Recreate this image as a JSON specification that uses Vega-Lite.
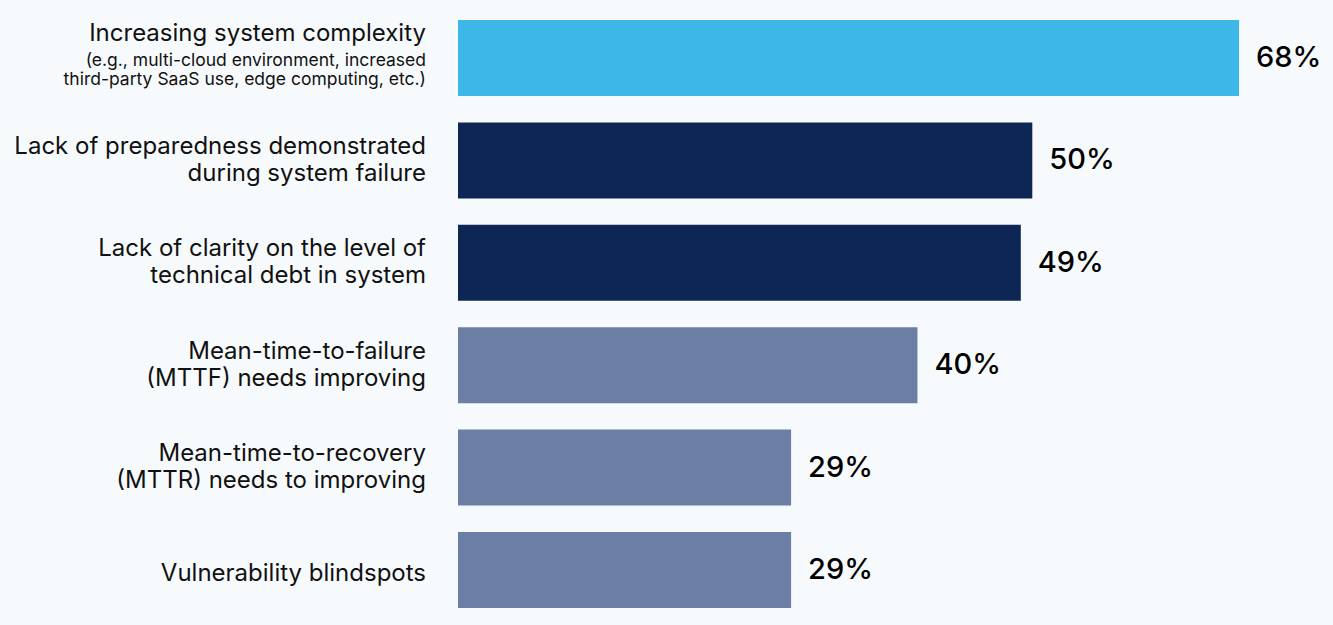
{
  "$schema": "https://vega.github.io/schema/vega-lite/v6.json",
  "width": 875,
  "height": 588,
  "autosize": {"type": "none"},
  "padding": {"left": 458, "top": 20, "right": 0, "bottom": 17},
  "background": "#f7fafc",
  "config": {"view": {"stroke": null}, "font": "Inter"},
  "data": {
    "values": [
      {"cat": "Increasing system complexity", "label": "Increasing system complexity", "sub": ["(e.g., multi-cloud environment, increased", "third-party SaaS use, edge computing, etc.)"], "value": 68, "pct": "68%", "tier": "top"},
      {"cat": "Lack of preparedness", "label": ["Lack of preparedness demonstrated", "during system failure"], "sub": "", "value": 50, "pct": "50%", "tier": "high"},
      {"cat": "Lack of clarity", "label": ["Lack of clarity on the level of", "technical debt in system"], "sub": "", "value": 49, "pct": "49%", "tier": "high"},
      {"cat": "MTTF", "label": ["Mean-time-to-failure", "(MTTF) needs improving"], "sub": "", "value": 40, "pct": "40%", "tier": "mid"},
      {"cat": "MTTR", "label": ["Mean-time-to-recovery", "(MTTR) needs to improving"], "sub": "", "value": 29, "pct": "29%", "tier": "mid"},
      {"cat": "Vulnerability", "label": "Vulnerability blindspots", "sub": "", "value": 29, "pct": "29%", "tier": "mid"}
    ]
  },
  "encoding": {
    "y": {"field": "cat", "type": "nominal", "sort": null, "axis": null,
          "scale": {"paddingInner": 0.258, "paddingOuter": 0}}
  },
  "layer": [
    {
      "mark": {"type": "bar"},
      "encoding": {
        "x": {"field": "value", "type": "quantitative", "axis": null, "scale": {"domain": [0, 76.18], "nice": false}},
        "color": {"field": "tier", "type": "nominal", "legend": null,
                  "scale": {"domain": ["top", "high", "mid"], "range": ["#3db6e8", "#0e2654", "#6b7ea3"]}}
      }
    },
    {
      "mark": {"type": "text", "align": "left", "baseline": "middle", "dx": 17, "fontSize": 29, "fontWeight": 500, "color": "#000000"},
      "encoding": {
        "x": {"field": "value", "type": "quantitative"},
        "text": {"field": "pct"}
      }
    },
    {
      "transform": [{"filter": "isArray(datum.label)"}],
      "mark": {"type": "text", "align": "right", "baseline": "middle", "dx": -32, "dy": -13.5, "fontSize": 24, "fontWeight": 400, "lineHeight": 27, "color": "#111111"},
      "encoding": {
        "x": {"datum": 0},
        "text": {"field": "label"}
      }
    },
    {
      "transform": [{"filter": "!isArray(datum.label) && datum.sub === ''"}],
      "mark": {"type": "text", "align": "right", "baseline": "middle", "dx": -32, "dy": 4, "fontSize": 24, "fontWeight": 400, "color": "#111111"},
      "encoding": {
        "x": {"datum": 0},
        "text": {"field": "label"}
      }
    },
    {
      "transform": [{"filter": "datum.sub !== ''"}],
      "mark": {"type": "text", "align": "right", "baseline": "middle", "dx": -32, "dy": -24, "fontSize": 24, "fontWeight": 400, "color": "#111111"},
      "encoding": {
        "x": {"datum": 0},
        "text": {"field": "label"}
      }
    },
    {
      "transform": [{"filter": "datum.sub !== ''"}],
      "mark": {"type": "text", "align": "right", "baseline": "middle", "dx": -32, "dy": 3.5, "fontSize": 17.5, "fontWeight": 400, "lineHeight": 19, "color": "#111111"},
      "encoding": {
        "x": {"datum": 0},
        "text": {"field": "sub"}
      }
    }
  ]
}
